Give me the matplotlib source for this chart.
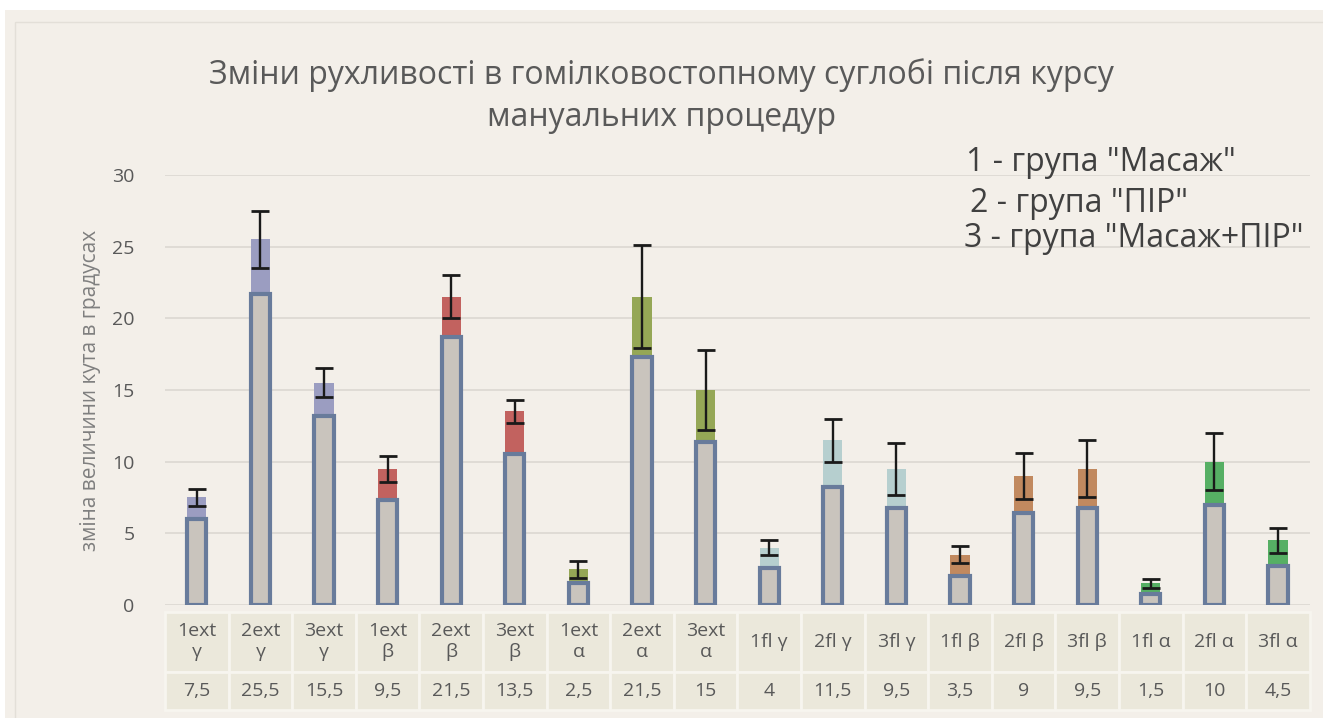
import matplotlib.pyplot as plt
from matplotlib.patches import Rectangle

plt.rcParams['font.family'] = ['Open Sans', 'DejaVu Sans']

# Data
labels = ["1ext\nγ", "2ext\nγ", "3ext\nγ", "1ext\nβ", "2ext\nβ", "3ext\nβ",
          "1ext\nα", "2ext\nα", "3ext\nα", "1fl γ", "2fl γ", "3fl γ",
          "1fl β", "2fl β", "3fl β", "1fl α", "2fl α", "3fl α"]
totals = [7.5, 25.5, 15.5, 9.5, 21.5, 13.5, 2.5, 21.5, 15,
          4, 11.5, 9.5, 3.5, 9, 9.5, 1.5, 10, 4.5]
value_text = ["7,5", "25,5", "15,5", "9,5", "21,5", "13,5", "2,5", "21,5", "15",
              "4", "11,5", "9,5", "3,5", "9", "9,5", "1,5", "10", "4,5"]
base = [6.0, 21.7, 13.2, 7.3, 18.7, 10.5, 1.5, 17.3, 11.4,
        2.6, 8.2, 6.8, 2.0, 6.4, 6.8, 0.8, 7.0, 2.7]
errors = [0.6, 2.0, 1.0, 0.9, 1.5, 0.8, 0.6, 3.6, 2.8,
          0.5, 1.5, 1.8, 0.6, 1.6, 2.0, 0.3, 2.0, 0.9]
top_colors = ["#9b9dc1"] * 3 + ["#c2625f"] * 3 + ["#95a756"] * 3 + \
             ["#b6cfcf"] * 3 + ["#c1895f"] * 3 + ["#56af64"] * 3

bg = "#f3efe9"
fig = plt.figure(figsize=(13.23, 7.18), dpi=100)
fig.patch.set_facecolor("white")
fig.patches.append(Rectangle((0.004, 0.0), 0.996, 0.986, transform=fig.transFigure,
                             facecolor=bg, edgecolor="none", zorder=-2))
fig.patches.append(Rectangle((0.011, -0.01), 1.0, 0.98, transform=fig.transFigure,
                             facecolor="none", edgecolor="#e3dfd8", lw=1, zorder=-1))

ax = fig.add_axes([0.1247, 0.1574, 0.8653, 0.5989])
ax.set_facecolor(bg)
x = list(range(len(labels)))
tops = [t - b for t, b in zip(totals, base)]

ax.bar(x, tops, bottom=base, width=0.3, color=top_colors, edgecolor="none", zorder=2)
ax.bar(x, base, width=0.3, color="#c9c4bd", edgecolor="#687b9b", linewidth=3, zorder=3)
ax.errorbar(x, totals, yerr=errors, fmt="none", ecolor="#1a1a1a", elinewidth=1.7,
            capsize=6.5, capthick=2, zorder=4)

ax.set_xlim(-0.5, len(labels) - 0.5)
ax.set_ylim(0, 30)
ax.set_yticks([0, 5, 10, 15, 20, 25, 30])
ax.yaxis.grid(True, color="#dcd8d1", lw=1.2)
ax.set_axisbelow(True)
for s in ax.spines.values():
    s.set_visible(False)
ax.tick_params(axis="y", length=0, pad=22, labelsize=14, labelcolor="#595959")
ax.set_xticks([])
ax.set_ylabel("зміна величини кута в градусах", fontsize=15, color="#7f7f7f", labelpad=8)

# data table under the bars
tbl = ax.table(cellText=[labels, value_text], cellLoc="center",
               bbox=[0, -0.244, 1, 0.228])
tbl.auto_set_font_size(False)
for (r, c), cell in tbl.get_celld().items():
    cell.set_facecolor("#ebe8db")
    cell.set_edgecolor("#f7f5ef")
    cell.set_linewidth(2)
    cell.set_height(60 if r == 0 else 38)
    cell.get_text().set_color("#595959")
    cell.get_text().set_fontsize(14)

fig.text(0.5, 0.895, "Зміни рухливості в гомілковостопному суглобі після курсу",
         ha="center", va="center", fontsize=23, color="#595959")
fig.text(0.5, 0.837, "мануальних процедур", ha="center", va="center",
         fontsize=23, color="#595959")
fig.text(0.730, 0.773, "1 - група \"Масаж\"", ha="left", va="center", fontsize=23, color="#404040")
fig.text(0.733, 0.717, "2 - група \"ПІР\"", ha="left", va="center", fontsize=23, color="#404040")
fig.text(0.729, 0.668, "3 - група \"Масаж+ПІР\"", ha="left", va="center", fontsize=23, color="#404040")

fig.savefig("out.png", dpi=100, facecolor=fig.get_facecolor())
